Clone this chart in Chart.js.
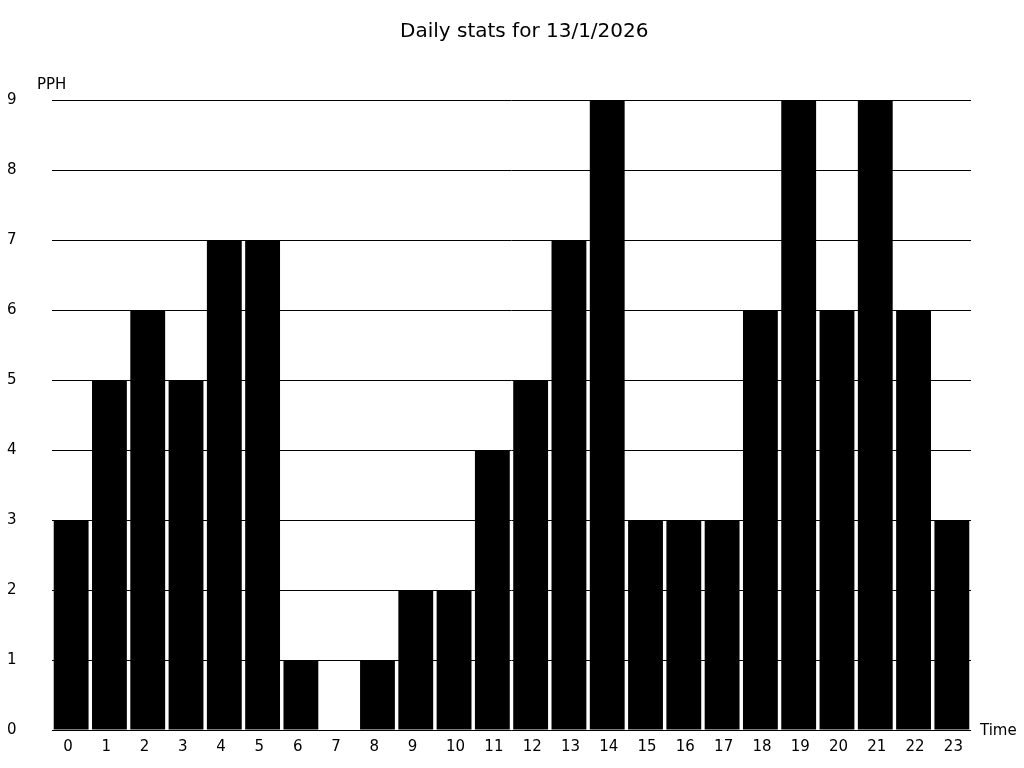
<!DOCTYPE html>
<html>
<head>
<meta charset="utf-8">
<style>
  html, body { margin: 0; padding: 0; background: #fff; }
  #wrap { width: 1024px; height: 768px; }
</style>
<script src="https://cdn.jsdelivr.net/npm/chart.js@4"></script>
</head>
<body>
<div id="wrap"><canvas id="pphChart" width="1024" height="768"></canvas></div>
<script>
// 每小時 PPH 資料
const hours = ['0','1','2','3','4','5','6','7','8','9','10','11','12','13','14','15','16','17','18','19','20','21','22','23'];
const pphValues = [3, 5, 6, 5, 7, 7, 1, 0, 1, 2, 2, 4, 5, 7, 9, 3, 3, 3, 6, 9, 6, 9, 6, 3];
const yTicks = [0, 1, 2, 3, 4, 5, 6, 7, 8, 9];
const chartTitle = 'Daily stats for 13/1/2026';
const yLabel = 'PPH';
const xLabel = 'Time';

const fontFamily = '"DejaVu Sans", sans-serif';

// 標題與軸名稱
const labelsPlugin = {
    id: 'axisLabels',
    afterDraw(chart) {
        const ctx = chart.ctx;
        const area = chart.chartArea;
        ctx.save();
        ctx.fillStyle = '#000';
        ctx.textBaseline = 'alphabetic';
        ctx.font = '20px ' + fontFamily;
        ctx.textAlign = 'left';
        ctx.fillText(chartTitle, 400, 37);

        ctx.font = '15px ' + fontFamily;
        ctx.fillText(yLabel, 37, area.top - 11);
        ctx.fillText(xLabel, area.right + 9, area.bottom + 5);
        ctx.restore();
    }
};

new Chart(document.getElementById('pphChart').getContext('2d'), {
    type: 'bar',
    data: {
        labels: hours,
        datasets: [{
            data: pphValues,
            backgroundColor: '#000',
            borderWidth: 0,
            barPercentage: 0.91,
            categoryPercentage: 1.0
        }]
    },
    options: {
        responsive: false,
        animation: false,
        layout: { padding: { top: 100, left: 7, right: 53, bottom: 0 } },
        plugins: {
            legend: { display: false },
            title: { display: false },
            tooltip: { enabled: false }
        },
        scales: {
            x: {
                grid: { display: false, drawTicks: false },
                border: { display: false },
                ticks: {
                    color: '#000', padding: 8, align: 'start', labelOffset: -8,
                    font: { family: fontFamily, size: 15 }, maxRotation: 0
                },
                afterFit(scale) { scale.height = 38; }
            },
            y: {
                min: 0,
                max: 9,
                afterBuildTicks(scale) { scale.ticks = yTicks.map(v => ({ value: v })); },
                grid: { color: '#000', lineWidth: 1, drawTicks: false },
                border: { display: false },
                ticks: { color: '#000', crossAlign: 'far', padding: 0, font: { family: fontFamily, size: 15 } },
                afterFit(scale) { scale.width = 45; }
            }
        }
    },
    plugins: [labelsPlugin]
});
</script>
</body>
</html>
